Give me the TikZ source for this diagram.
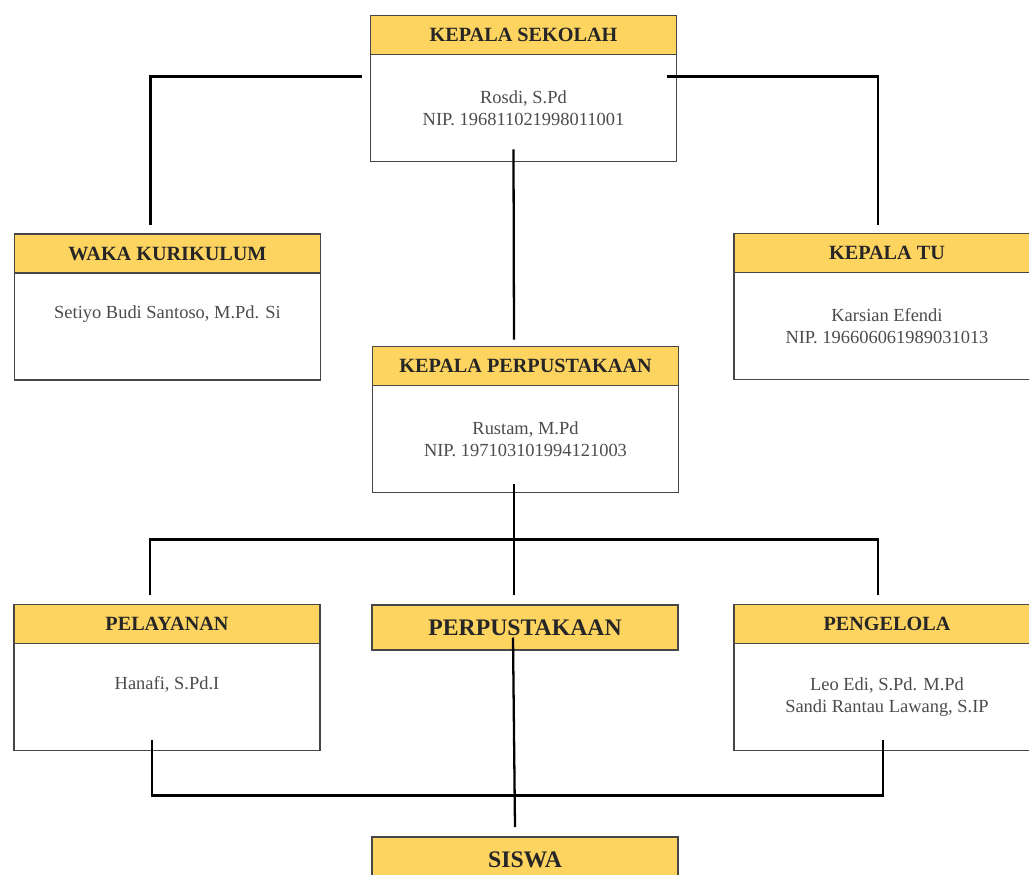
\documentclass[tikz,border=0pt]{standalone}
\usepackage{fontspec}
\setmainfont{Liberation Serif}
\usepackage{xcolor}
\usetikzlibrary{positioning,calc}
\definecolor{headColor}{RGB}{254,212,96}
\definecolor{borderColor}{RGB}{70,70,70}
\tikzset{
    headnode/.style={
        draw=borderColor,
        line width=1pt,
        fill=headColor,
        minimum width=6.12cm,
        minimum height=0.78cm,
        inner sep=0pt,
        outer sep=0pt,
        text=black!85,
        font=\fontsize{11.5}{13}\selectfont\bfseries
    },
    bodynode/.style={
        draw=borderColor,
        line width=1pt,
        fill=white,
        minimum width=6.12cm,
        minimum height=2.14cm,
        inner sep=0pt,
        outer sep=0pt,
        align=center,
        text=black!70,
        font=\fontsize{10.5}{12.5}\selectfont
    },
    link/.style={
        line width=1.3pt,
        black
    }
}

\begin{document}
\begin{tikzpicture}[x=0.02cm, y=-0.02cm]
    \useasboundingbox (0,0) rectangle (1029,875);

    % Jabatan
    \node[headnode] (KS_HEAD) at (523.5,35) {KEPALA SEKOLAH};
    \node[bodynode, below=0pt of KS_HEAD] (KS_BODY) {Rosdi, S.Pd\\NIP. 196811021998011001};

    \node[headnode] (WAKA_HEAD) at (167.5,253.5) {WAKA KURIKULUM};
    \node[bodynode, below=0pt of WAKA_HEAD] (WAKA_BODY) {Setiyo Budi Santoso, M.Pd. Si\\ \strut};

    \node[headnode] (TU_HEAD) at (887,253) {KEPALA TU};
    \node[bodynode, below=0pt of TU_HEAD] (TU_BODY) {Karsian Efendi\\NIP. 196606061989031013};

    \node[headnode] (KP_HEAD) at (525.5,366) {KEPALA PERPUSTAKAAN};
    \node[bodynode, below=0pt of KP_HEAD] (KP_BODY) {Rustam, M.Pd\\NIP. 197103101994121003};

    \node[headnode] (PEL_HEAD) at (167,624) {PELAYANAN};
    \node[bodynode, below=0pt of PEL_HEAD] (PEL_BODY) {Hanafi, S.Pd.I\\ \strut};

    \node[headnode, minimum height=0.9cm, font=\fontsize{13.5}{15}\selectfont\bfseries] (PERP_HEAD) at (525,627.5) {PERPUSTAKAAN};

    \node[headnode] (PENG_HEAD) at (887,624) {PENGELOLA};
    \node[bodynode, below=0pt of PENG_HEAD] (PENG_BODY) {Leo Edi, S.Pd. M.Pd\\Sandi Rantau Lawang, S.IP};

    \node[headnode, minimum height=0.9cm, font=\fontsize{13.5}{15}\selectfont\bfseries] (SISWA_HEAD) at (525,859.5) {SISWA};

    % Garis penghubung
    \draw[link] ($(KS_BODY.north west)+(-9,22)$) -| ($(WAKA_HEAD.north)+(-17,-9)$);
    \draw[link] ($(KS_BODY.north east)+(-9,22)$) -| ($(TU_HEAD.north)+(-9,-9)$);
    \draw[link] ($(KS_BODY.south)+(-10,-12)$) -- ($(KP_HEAD.north)+(-11.5,-7)$);

    \draw[link] ($(KP_BODY.south)+(-11.5,-8)$) -- ($(PERP_HEAD.north)+(-11,-10)$);
    \draw[link] ($(PEL_HEAD.north)+(-17,-10)$) -- ++(0,-55) -| ($(PENG_HEAD.north)+(-9,-10)$);

    \draw[link] ($(PERP_HEAD.center)+(-12,10)$) -- ($(SISWA_HEAD.north)+(-10,-10)$);
    \draw[link] ($(PEL_BODY.south)+(-15,-10)$) -- ++(0,55) -| ($(PENG_BODY.south)+(-4,-10)$);
\end{tikzpicture}
\end{document}
